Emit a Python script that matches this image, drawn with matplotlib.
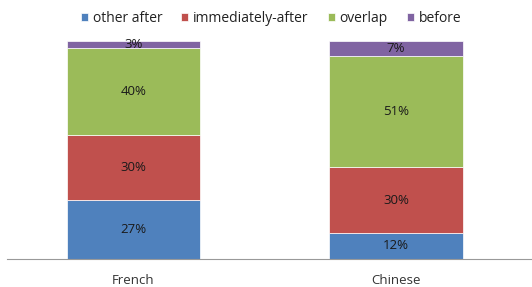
import numpy as np
import matplotlib.pyplot as plt

categories = ['French', 'Chinese']
series_names = ['other after', 'immediately-after', 'overlap', 'before']
other_after = [27, 12]
immediately_after = [30, 30]
overlap = [40, 51]
before = [3, 7]
colors = ['#4F81BD', '#C0504D', '#9BBB59', '#8064A2']

plt.rcParams['font.family'] = ['Open Sans', 'DejaVu Sans']

fig = plt.figure(figsize=(5.32, 2.87), dpi=100)
ax = fig.add_axes([7 / 532, 1 - 259 / 287, 1 - 7 / 532, (259 - 41) / 287])

x = np.arange(len(categories))
bottom = np.zeros(len(categories))
for name, vals, col in zip(series_names, [other_after, immediately_after, overlap, before], colors):
    vals = np.array(vals, dtype=float)
    ax.bar(x, vals, 0.507, bottom=bottom, color=col, label=name,
           edgecolor='white', linewidth=0.5)
    for xi, b, v in zip(x, bottom, vals):
        ax.text(xi, b + v / 2, f'{int(v)}%', ha='center', va='center',
                fontsize=9.5, color='#1a1a1a')
    bottom += vals

ax.set_xlim(-0.482, 1.518)
ax.set_ylim(0, 100)
ax.set_yticks([])
ax.set_xticks(x)
ax.set_xticklabels(categories, fontsize=9.5, color='#333333')
ax.tick_params(axis='x', length=0, pad=11)
for side in ['left', 'right', 'top']:
    ax.spines[side].set_visible(False)
ax.spines['bottom'].set_color('#999999')

fig.legend(loc='center', bbox_to_anchor=(271 / 532, 1 - 18 / 287), ncol=4,
           frameon=False, fontsize=10, handlelength=0.5, handleheight=0.5,
           handletextpad=0.36, columnspacing=1.37, labelcolor='#222222')

fig.savefig('out.png', dpi=100)
